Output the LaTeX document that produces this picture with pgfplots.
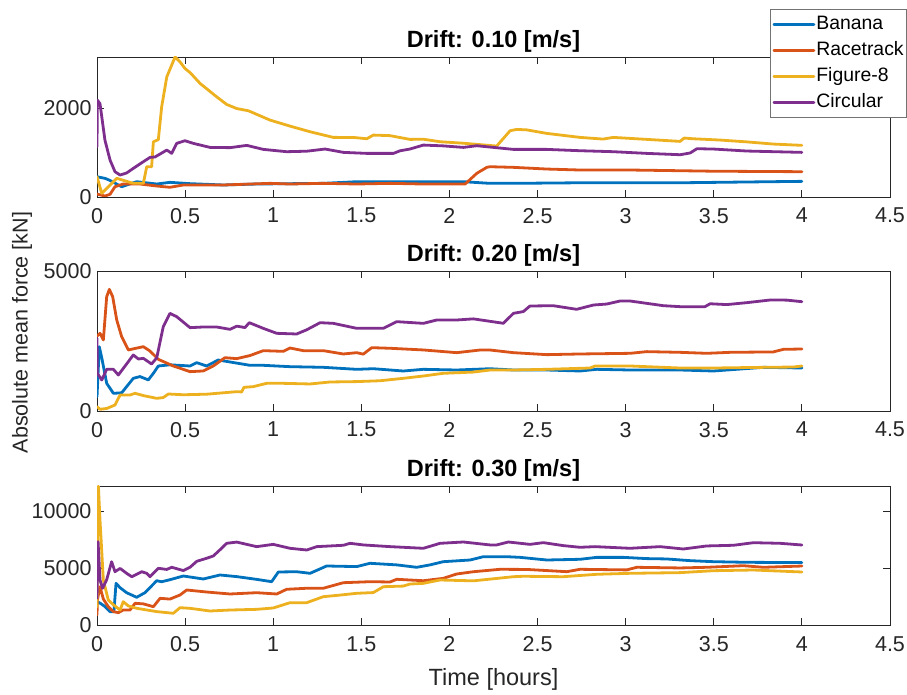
\documentclass[border=0pt]{standalone}
\usepackage{fontspec}
\setmainfont{Liberation Sans}
\usepackage{pgfplots}
\pgfplotsset{compat=1.18}
\definecolor{cB}{rgb}{0,0.447,0.741}
\definecolor{cR}{rgb}{0.85,0.325,0.098}
\definecolor{cY}{rgb}{0.929,0.694,0.125}
\definecolor{cP}{rgb}{0.494,0.184,0.556}
\definecolor{axg}{rgb}{0.15,0.15,0.15}
\pgfplotsset{panel/.style={
  width=793pt, height=140pt, scale only axis,
  xmin=0, xmax=4.5, xtick={0,0.5,1,1.5,2,2.5,3,3.5,4,4.5},
  tick align=inside, major tick length=7pt,
  axis line style={color=axg, line width=0.8pt},
  tick style={color=axg, line width=0.8pt},
  ticklabel style={font=\fontsize{21.5}{24}\selectfont, color=axg},
  /pgf/number format/assume math mode=true,
  scaled ticks=false,
  xticklabel style={/pgf/number format/.cd, fixed, precision=1, /tikz/.cd, yshift=-7.5pt},
  yticklabel style={/pgf/number format/.cd, fixed, 1000 sep={}, /tikz/.cd, xshift=-2pt},
  every axis plot/.append style={line width=2.8pt, line join=round, line cap=round},
  title style={font=\bfseries\fontsize{23.5}{27}\selectfont, at={(axis description cs:0.5,1)}, anchor=base, yshift=3pt, color=black},
  label style={font=\fontsize{23.5}{27}\selectfont, color=axg},
}}
\begin{document}
\begin{tikzpicture}[x=1pt,y=1pt]
\path[use as bounding box] (0,0) rectangle (907,695);
% ---------- top panel ----------
\begin{axis}[panel, at={(97pt,498pt)}, anchor=south west,
  ymin=0, ymax=3150, ytick={0,2000},
  title={Drift: 0.10 [m/s]},
  legend style={at={(axis description cs:1.0214,1.343)}, anchor=north east,
    draw=black!55, line width=0.6pt, fill=white, font=\fontsize{19.4}{22}\selectfont,
    inner xsep=2pt, inner ysep=4.75pt, row sep=5.5pt,
    nodes={inner sep=1pt, text height=14pt, text depth=4.5pt}},
  legend cell align=left,
  legend image code/.code={\draw[#1] (0pt,0pt) -- (40pt,0pt);},
]
\addplot[cB] coordinates {(0,456) (0.045,420) (0.07,380) (0.14,231) (0.225,344) (0.339,292) (0.414,330) (0.528,300) (0.717,270) (0.906,292) (1.284,307) (1.474,344) (1.852,344) (2.079,344) (2.23,307) (2.363,307) (2.741,320) (3.309,320) (4.0,352)};
\addlegendentry{Banana}
\addplot[cR] coordinates {(0,67) (0.045,22) (0.074,60) (0.102,231) (0.149,292) (0.244,292) (0.339,247) (0.414,218) (0.49,270) (0.717,270) (0.982,307) (1.095,292) (1.284,307) (1.474,292) (1.663,307) (1.852,292) (2.089,292) (2.155,532) (2.212,667) (2.23,681) (2.363,667) (2.552,629) (2.741,607) (3.025,607) (3.309,591) (3.498,580) (4.0,569)};
\addlegendentry{Racetrack}
\addplot[cY] coordinates {(0,456) (0.027,83) (0.112,420) (0.206,307) (0.263,307) (0.282,681) (0.31,681) (0.32,1243) (0.348,1290) (0.367,2029) (0.396,2703) (0.443,3150) (0.471,3040) (0.499,2892) (0.528,2800) (0.585,2555) (0.679,2254) (0.736,2082) (0.793,1990) (0.859,1940) (0.982,1730) (1.095,1595) (1.209,1468) (1.341,1341) (1.455,1340) (1.531,1310) (1.568,1393) (1.663,1380) (1.776,1296) (1.852,1300) (1.947,1243) (2.079,1210) (2.268,1146) (2.344,1490) (2.382,1521) (2.439,1510) (2.552,1431) (2.741,1341) (2.872,1303) (2.929,1341) (3.12,1296) (3.309,1251) (3.332,1326) (3.383,1310) (3.536,1281) (3.687,1240) (3.838,1191) (4.0,1162)};
\addlegendentry{Figure-8}
\addplot[cP] coordinates {(0,1130) (0.002,2180) (0.017,2100) (0.045,1281) (0.074,831) (0.102,569) (0.131,494) (0.168,540) (0.206,644) (0.263,794) (0.301,891) (0.329,900) (0.396,1056) (0.424,981) (0.452,1206) (0.499,1266) (0.547,1206) (0.641,1116) (0.755,1110) (0.85,1161) (0.944,1071) (1.076,1019) (1.19,1030) (1.294,1079) (1.398,1004) (1.531,981) (1.682,981) (1.72,1040) (1.776,1079) (1.852,1168) (1.965,1150) (2.079,1116) (2.155,1153) (2.363,1071) (2.552,1071) (2.741,1041) (2.93,1019) (3.12,981) (3.309,951) (3.366,990) (3.404,1086) (3.498,1079) (3.687,1034) (4.0,1004)};
\addlegendentry{Circular}
\end{axis}
% ---------- middle panel ----------
\begin{axis}[panel, at={(97pt,284pt)}, anchor=south west,
  ymin=0, ymax=5000, ytick={0,5000},
  title={Drift: 0.20 [m/s]},
  ylabel={Absolute mean force [kN]},
  ylabel style={at={(axis description cs:-0.0946,0.56)}, anchor=center, font=\fontsize{21.5}{25}\selectfont},
]
\addplot[cB] coordinates {(0,512) (0.013,2297) (0.027,1900) (0.055,988) (0.093,631) (0.14,650) (0.168,869) (0.206,1167) (0.244,1230) (0.291,1110) (0.32,1346) (0.348,1607) (0.414,1650) (0.528,1607) (0.566,1726) (0.622,1607) (0.688,1821) (0.755,1750) (0.868,1631) (0.944,1631) (1.095,1583) (1.284,1560) (1.474,1488) (1.568,1510) (1.738,1428) (1.852,1488) (2.041,1464) (2.23,1510) (2.363,1464) (2.552,1464) (2.741,1428) (2.836,1488) (3.025,1464) (3.309,1464) (3.498,1428) (3.782,1559) (4.0,1535)};
\addplot[cR] coordinates {(0,2678) (0.017,2774) (0.036,2535) (0.055,4082) (0.07,4345) (0.089,4082) (0.112,3250) (0.14,2654) (0.178,2178) (0.206,2220) (0.263,2297) (0.301,2140) (0.348,1845) (0.433,1607) (0.528,1405) (0.603,1430) (0.66,1607) (0.726,1904) (0.793,1870) (0.868,1980) (0.944,2155) (1.057,2130) (1.095,2250) (1.171,2155) (1.284,2155) (1.398,2036) (1.474,2083) (1.511,2030) (1.559,2262) (1.663,2240) (1.852,2180) (2.041,2083) (2.174,2178) (2.23,2178) (2.363,2083) (2.552,2012) (2.741,2036) (3.025,2060) (3.12,2120) (3.309,2095) (3.46,2060) (3.592,2095) (3.838,2110) (3.895,2202) (4.0,2214)};
\addplot[cY] coordinates {(0,155) (0.017,60) (0.055,90) (0.102,214) (0.131,571) (0.187,571) (0.216,631) (0.263,550) (0.339,452) (0.376,480) (0.405,607) (0.49,580) (0.622,600) (0.717,650) (0.793,690) (0.821,680) (0.834,845) (0.887,870) (0.963,988) (1.057,988) (1.209,965) (1.322,1036) (1.474,1050) (1.606,1080) (1.738,1167) (1.852,1250) (1.965,1346) (2.136,1390) (2.23,1464) (2.363,1464) (2.552,1488) (2.798,1535) (2.826,1607) (3.025,1607) (3.309,1535) (3.498,1535) (3.782,1559) (3.952,1570) (4.0,1607)};
\addplot[cP] coordinates {(0,2595) (0.002,1346) (0.027,1107) (0.055,1488) (0.093,1488) (0.121,1286) (0.149,1520) (0.206,2000) (0.235,1857) (0.263,1880) (0.31,1678) (0.339,1900) (0.376,3011) (0.414,3488) (0.452,3370) (0.528,2976) (0.603,3000) (0.679,3000) (0.755,2916) (0.793,3030) (0.84,2980) (0.864,3154) (0.944,2950) (1.02,2774) (1.133,2750) (1.19,2900) (1.266,3154) (1.341,3130) (1.474,2952) (1.625,2952) (1.701,3190) (1.852,3130) (1.928,3250) (2.041,3250) (2.136,3290) (2.287,3150) (2.306,3131) (2.363,3488) (2.419,3550) (2.457,3750) (2.59,3760) (2.722,3631) (2.817,3785) (2.893,3820) (2.968,3928) (3.025,3928) (3.214,3761) (3.309,3726) (3.45,3726) (3.479,3830) (3.574,3800) (3.687,3869) (3.82,3964) (3.914,3960) (4.0,3904)};
\end{axis}
% ---------- bottom panel ----------
\begin{axis}[panel, at={(97pt,69.7pt)}, anchor=south west, height=139.3pt,
  ymin=0, ymax=12220, ytick={0,5000,10000},
  title={Drift: 0.30 [m/s]},
  xlabel={Time [hours]},
  xlabel style={at={(axis description cs:0.5,-0.43)}, anchor=base},
]
\addplot[cB] coordinates {(0,2070) (0.017,1950) (0.045,1650) (0.074,1195) (0.096,1195) (0.108,3684) (0.131,3300) (0.168,2860) (0.225,2456) (0.272,2860) (0.339,3912) (0.367,3820) (0.414,4000) (0.49,4325) (0.603,4062) (0.698,4413) (0.793,4270) (0.906,4030) (0.991,3825) (1.029,4676) (1.133,4700) (1.209,4560) (1.303,5202) (1.474,5150) (1.549,5439) (1.701,5300) (1.814,5088) (1.89,5300) (1.965,5580) (2.117,5728) (2.192,6018) (2.325,6018) (2.401,5960) (2.552,5728) (2.741,5790) (2.836,5960) (2.987,5960) (3.12,5850) (3.233,5820) (3.366,5670) (3.498,5580) (3.687,5526) (4.0,5500)};
\addplot[cR] coordinates {(0,904) (0.002,2219) (0.017,3386) (0.036,2300) (0.064,1632) (0.093,1200) (0.121,1105) (0.149,1342) (0.187,1342) (0.216,1930) (0.263,1880) (0.32,1632) (0.358,2368) (0.414,2300) (0.471,2658) (0.509,3097) (0.622,2920) (0.755,2746) (0.906,2860) (1.02,2746) (1.076,3158) (1.19,3250) (1.284,3250) (1.398,3737) (1.549,3825) (1.663,3800) (1.701,4035) (1.852,3910) (1.965,4120) (2.041,4500) (2.136,4700) (2.287,4912) (2.439,4900) (2.666,4702) (2.741,4912) (3.006,4860) (3.063,5088) (3.309,5030) (3.46,5088) (3.668,5228) (3.782,5088) (4.0,5200)};
\addplot[cY] coordinates {(0,1632) (0.008,12200) (0.017,9237) (0.036,3974) (0.064,2219) (0.093,1800) (0.131,1342) (0.149,2070) (0.178,1700) (0.225,1491) (0.339,1200) (0.433,1053) (0.471,1544) (0.528,1490) (0.641,1254) (0.755,1340) (0.906,1400) (1.0,1518) (1.095,1983) (1.19,1983) (1.284,2509) (1.379,2650) (1.474,2807) (1.568,2870) (1.625,3386) (1.738,3440) (1.776,3620) (1.852,3680) (1.947,3974) (2.136,3900) (2.363,4263) (2.419,4300) (2.646,4263) (2.836,4474) (3.025,4560) (3.309,4620) (3.498,4790) (3.725,4850) (4.0,4676)};
\addplot[cP] coordinates {(0,2368) (0.006,7339) (0.017,3974) (0.032,3246) (0.055,4000) (0.083,5580) (0.102,4702) (0.131,4990) (0.168,4560) (0.197,4263) (0.254,4700) (0.282,4560) (0.301,4263) (0.348,5000) (0.396,4900) (0.424,5090) (0.49,4800) (0.528,5090) (0.566,5614) (0.622,5880) (0.66,6080) (0.707,6755) (0.736,7193) (0.793,7300) (0.906,6900) (1.0,7100) (1.095,6755) (1.19,6605) (1.247,6900) (1.398,7020) (1.436,7193) (1.511,7050) (1.663,6900) (1.852,6755) (1.947,7193) (2.079,7307) (2.23,7050) (2.268,7050) (2.334,7307) (2.457,7100) (2.533,7250) (2.646,6990) (2.741,6842) (2.826,6900) (3.025,6755) (3.195,6900) (3.327,6693) (3.46,6960) (3.612,7020) (3.725,7246) (3.876,7193) (4.0,7044)};
\end{axis}
\end{tikzpicture}
\end{document}
